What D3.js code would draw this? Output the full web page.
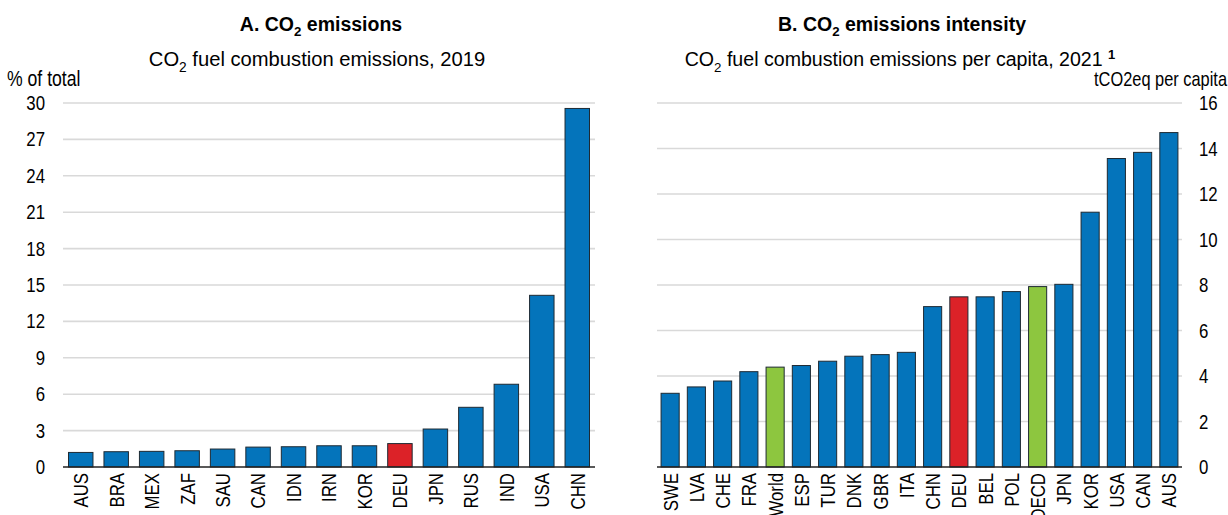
<!DOCTYPE html>
<html><head><meta charset="utf-8">
<script src="https://cdn.jsdelivr.net/npm/d3@7"></script>
<style>
html,body{margin:0;padding:0;background:#fff;}
svg text{font-family:"Liberation Sans",Arial,sans-serif;fill:#000;}
</style></head>
<body><svg id="c" width="1228" height="515"></svg>
<script>
// ---- data ----
const leftCategories = ["AUS","BRA","MEX","ZAF","SAU","CAN","IDN","IRN","KOR","DEU","JPN","RUS","IND","USA","CHN"];
const leftValues = [1.2,1.26,1.29,1.34,1.48,1.64,1.67,1.75,1.75,1.93,3.13,4.92,6.82,14.15,29.55];
const leftTicks = [0,3,6,9,12,15,18,21,24,27,30];

const rightCategories = ["SWE","LVA","CHE","FRA","World","ESP","TUR","DNK","GBR","ITA","CHN","DEU","BEL","POL","OECD","JPN","KOR","USA","CAN","AUS"];
const rightValues = [3.24,3.52,3.78,4.19,4.39,4.46,4.65,4.87,4.94,5.04,7.05,7.48,7.48,7.71,7.93,8.03,11.2,13.56,13.83,14.7];
const rightTicks = [0,2,4,6,8,10,12,14,16];

const highlightRed = ["DEU"];
const highlightGreen = ["World","OECD"];

const BLUE = "#0474BB", RED = "#DC2228", GREEN = "#8DC63F";
const colorOf = c => highlightRed.includes(c) ? RED : (highlightGreen.includes(c) ? GREEN : BLUE);
const NARROW = "scale(0.82,1)";

const svg = d3.select("#c");
svg.append("rect").attr("width",1228).attr("height",515).attr("fill","#fff");

const plotTop = 103, plotBottom = 467;

function panel(opts){
  const g = svg.append("g");
  const x = d3.scaleBand().domain(opts.cats).range([opts.x0, opts.x1]).paddingInner(0.31).paddingOuter(0.155);
  const y = d3.scaleLinear().domain([0, opts.max]).range([plotBottom, plotTop]);
  g.selectAll(".grid").data(opts.ticks.filter(t=>t>0)).enter().append("line")
    .attr("x1", opts.x0).attr("x2", opts.x1)
    .attr("y1", d=>y(d)).attr("y2", d=>y(d))
    .attr("stroke","#d9d9d9").attr("stroke-width",1.6);
  const axis = (opts.side === "left" ? d3.axisLeft(y) : d3.axisRight(y))
    .tickValues(opts.ticks).tickSize(0).tickPadding(0).tickFormat(d3.format("d"));
  const ag = g.append("g")
    .attr("transform", `translate(${opts.side==="left" ? opts.x0-18 : opts.x1+17},0)`)
    .call(axis);
  ag.select(".domain").remove();
  ag.selectAll("text").attr("font-size", 20.5).style("font-family",'"Liberation Sans",Arial,sans-serif')
    .attr("fill","#000").attr("transform", NARROW);
  g.selectAll(".bar").data(opts.cats.map((c,i)=>({c, v: opts.vals[i]}))).enter().append("rect")
    .attr("x", d=>x(d.c)).attr("width", x.bandwidth())
    .attr("y", d=>y(d.v)).attr("height", d=>y(0)-y(d.v))
    .attr("fill", d=>colorOf(d.c)).attr("stroke","#1e2a33").attr("stroke-width",1);
  g.append("line").attr("x1", opts.x0).attr("x2", opts.x1).attr("y1", y(0)).attr("y2", y(0))
    .attr("stroke","#222").attr("stroke-width",1.3);
  g.selectAll(".xl").data(opts.cats).enter().append("text")
    .attr("transform", d=>`translate(${x(d)+x.bandwidth()/2},${plotBottom+6}) rotate(-90) ${NARROW}`)
    .attr("text-anchor","end").attr("dy","0.36em").attr("font-size",20.5).text(d=>d);
  return {x,y};
}

panel({cats:leftCategories, vals:leftValues, ticks:leftTicks, max:30, x0:63, x1:595, side:"left"});
panel({cats:rightCategories, vals:rightValues, ticks:rightTicks, max:16, x0:657, x1:1182, side:"right"});

function coTitle(xc, yb, pre, post, size, weight){
  const t = svg.append("text").attr("transform", `translate(${xc},${yb})`).attr("text-anchor","middle")
    .attr("font-size", size).attr("font-weight", weight);
  t.append("tspan").text(pre + "CO");
  t.append("tspan").attr("font-size", size*0.68).attr("dy", size*0.28).text("2");
  t.append("tspan").attr("dy", -size*0.28).text(post);
  return t;
}
coTitle(321, 31, "A. ", " emissions", 19.5, "bold");
coTitle(317, 66, "", " fuel combustion emissions, 2019", 20.2, "normal");
coTitle(902, 31, "B. ", " emissions intensity", 19.5, "bold");
const st = coTitle(900, 66, "", " fuel combustion emissions per capita, 2021 ", 19.6, "normal");
st.append("tspan").attr("font-size", 13).attr("font-weight","bold").attr("dy", -7).text("1");

svg.append("text").attr("transform", `translate(7,86) ${NARROW}`).attr("font-size", 21.5).text("% of total");
svg.append("text").attr("transform", `translate(1227,86) ${NARROW}`).attr("text-anchor","end").attr("font-size", 20).text("tCO2eq per capita");
</script></body></html>
